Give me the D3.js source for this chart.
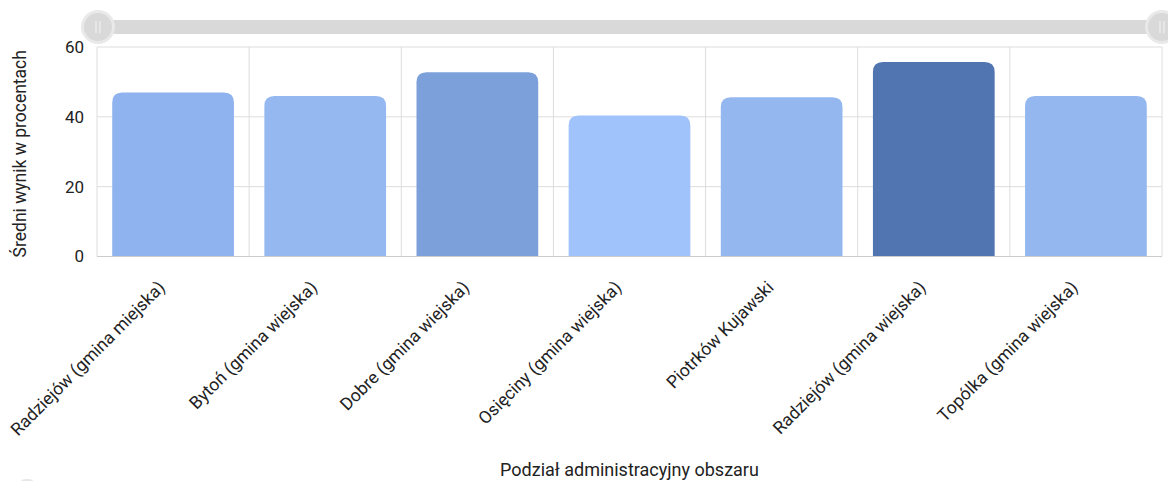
<!DOCTYPE html>
<html>
<head>
<meta charset="utf-8">
<script src="https://cdn.jsdelivr.net/npm/d3@7/dist/d3.min.js"></script>
<style>
  html, body { margin: 0; padding: 0; background: #fff; }
  svg { display: block; font-family: Roboto, "Noto Sans", sans-serif; }
</style>
</head>
<body>
<svg id="chart" width="1168" height="481"></svg>
<script>
const categories = [
  "Radziejów (gmina miejska)",
  "Bytoń (gmina wiejska)",
  "Dobre (gmina wiejska)",
  "Osięciny (gmina wiejska)",
  "Piotrków Kujawski",
  "Radziejów (gmina wiejska)",
  "Topólka (gmina wiejska)"
];
const values = [47.0, 46.0, 52.8, 40.4, 45.6, 55.7, 46.0];
const barColors = ["#8fb3ee", "#95b8f0", "#7ca0d9", "#a0c3fc", "#94b7f0", "#5175b0", "#94b7f0"];
const yTicks = [0, 20, 40, 60];
const yTitle = "Średni wynik w procentach";
const xTitle = "Podział administracyjny obszaru";

const W = 1168, H = 481;
const m = { left: 97, right: 6, top: 47, bottom: 224.5 };
const svg = d3.select("#chart");

const x = d3.scaleBand().domain(categories).range([m.left, W - m.right]).paddingInner(0.2).paddingOuter(0.1);
const y = d3.scaleLinear().domain([0, 60]).range([H - m.bottom, m.top]);

// gridlines horizontal
svg.append("g").selectAll("line").data(yTicks).join("line")
  .attr("x1", m.left).attr("x2", W - m.right)
  .attr("y1", d => y(d)).attr("y2", d => y(d))
  .attr("stroke", "#dddddd").attr("stroke-width", 1);

// vertical category separators
const step = x.step();
const seps = d3.range(categories.length + 1).map(i => m.left + i * step);
svg.append("g").selectAll("line").data(seps).join("line")
  .attr("x1", d => d).attr("x2", d => d)
  .attr("y1", y(60)).attr("y2", y(0))
  .attr("stroke", "#dddddd").attr("stroke-width", 1);

// bars with rounded top corners
const r = 10;
function barPath(x0, w, yTop, yBot) {
  const rr = Math.min(r, w / 2, yBot - yTop);
  return `M${x0},${yBot}V${yTop + rr}Q${x0},${yTop} ${x0 + rr},${yTop}H${x0 + w - rr}Q${x0 + w},${yTop} ${x0 + w},${yTop + rr}V${yBot}Z`;
}
svg.append("g").selectAll("path").data(categories).join("path")
  .attr("d", (c, i) => barPath(x(c), x.bandwidth(), y(values[i]), y(0)))
  .attr("fill", (c, i) => barColors[i]);

// axis baseline
svg.append("line")
  .attr("x1", m.left).attr("x2", W - m.right)
  .attr("y1", y(0)).attr("y2", y(0))
  .attr("stroke", "#cccccc");

// y axis
const yAxis = d3.axisLeft(y).tickValues(yTicks).tickSize(0).tickPadding(13);
const gy = svg.append("g").attr("transform", `translate(${m.left},0)`).call(yAxis);
gy.select(".domain").remove();
gy.selectAll("text").attr("font-size", 17).attr("fill", "#222").attr("font-family", "Roboto, sans-serif");

// x axis labels
const xAxis = d3.axisBottom(x).tickSize(0).tickPadding(0);
const gx = svg.append("g").attr("transform", `translate(0,${y(0)})`).call(xAxis);
gx.select(".domain").remove();
gx.selectAll(".tick text")
  .attr("font-size", 17.5).attr("fill", "#222").attr("font-family", "Roboto, sans-serif")
  .attr("text-anchor", "end")
  .attr("dy", null).attr("y", null)
  .attr("transform", "translate(-7,32) rotate(-45)");

// y title
svg.append("text")
  .attr("transform", `translate(26,${(y(0) + y(60)) / 2 + 2}) rotate(-90)`)
  .attr("text-anchor", "middle")
  .attr("font-size", 17.5).attr("fill", "#222")
  .text(yTitle);

// x title
svg.append("text")
  .attr("x", (m.left + W - m.right) / 2).attr("y", 476)
  .attr("text-anchor", "middle")
  .attr("font-size", 18).attr("fill", "#222")
  .text(xTitle);

// range slider decoration
const sl = svg.append("g");
sl.append("rect").attr("x", m.left).attr("y", 20).attr("width", W - m.right - m.left).attr("height", 14)
  .attr("rx", 7).attr("fill", "#d9d9d9");
[m.left + 1, W - m.right].forEach(cx => {
  sl.append("circle").attr("cx", cx).attr("cy", 27).attr("r", 17).attr("fill", "#e9e9e9");
  sl.append("circle").attr("cx", cx).attr("cy", 27).attr("r", 14).attr("fill", "#d9d9d9");
  [-2, 2].forEach(dx => sl.append("line")
    .attr("x1", cx + dx).attr("x2", cx + dx).attr("y1", 21).attr("y2", 33)
    .attr("stroke", "#f4f4f4").attr("stroke-width", 1));
});

// faint shadow bottom-left
svg.append("ellipse").attr("cx", 27).attr("cy", 481).attr("rx", 6).attr("ry", 2).attr("fill", "#e6e6e6");
</script>
</body>
</html>
